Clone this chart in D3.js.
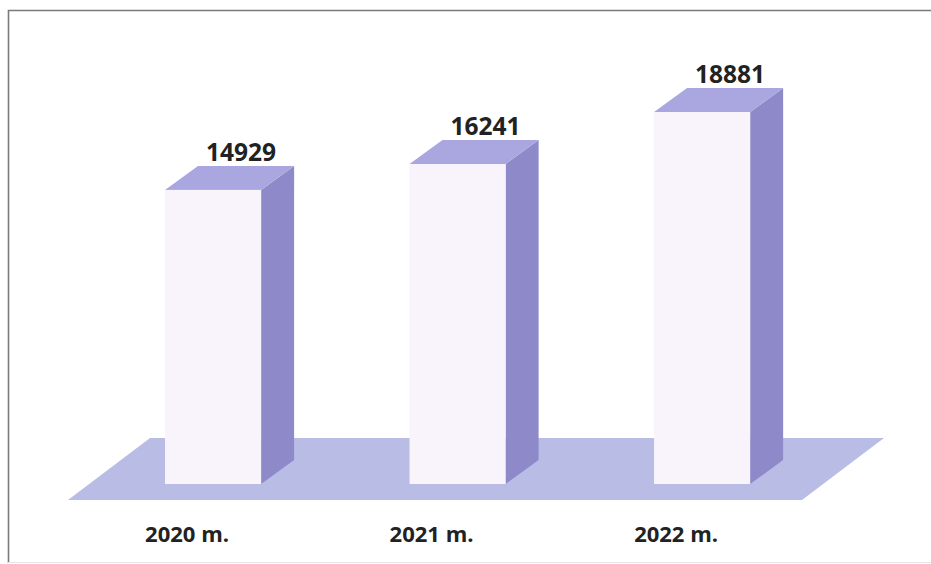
<!DOCTYPE html>
<html><head><meta charset="utf-8">
<script src="https://cdn.jsdelivr.net/npm/d3@7/dist/d3.min.js"></script>
<style>
html,body{margin:0;padding:0;background:#fff;}
svg{display:block;}
</style></head>
<body>
<script>
const categories = ["2020 m.", "2021 m.", "2022 m."];
const values = [14929, 16241, 18881];
const valueLabels = ["14929", "16241", "18881"];

const W = 931, H = 564;
const svg = d3.select("body").append("svg").attr("width", W).attr("height", H);

// frame
svg.append("path")
  .attr("d", "M8.5,563 L8.5,10.5 L931,10.5")
  .attr("fill", "none").attr("stroke", "#7a7a7a").attr("stroke-width", 1.6);
svg.append("line").attr("x1", 8).attr("x2", 931).attr("y1", 562.5).attr("y2", 562.5)
  .attr("stroke", "#e6e6e6").attr("stroke-width", 1);

const x = d3.scaleBand().domain(categories)
  .range([42.75, 872.4]).paddingInner(0.607).paddingOuter(0.5);
const baseY = 484;
const y = d3.scaleLinear().domain([0, 20000]).range([baseY, baseY - 394]);

const dx = 33, dy = -24;

// floor
const floorFront = 500, floorBack = 438;
const fdx = 82;
const floorX0 = 68, floorX1 = 802;
svg.append("path")
  .attr("d", `M${floorX0},${floorFront} L${floorX1},${floorFront} L${floorX1 + fdx},${floorBack} L${floorX0 + fdx},${floorBack} Z`)
  .attr("fill", "#b9bde6");

const g = svg.append("g");
categories.forEach((c, i) => {
  const x0 = x(c), w = x.bandwidth(), yt = y(values[i]);
  // side
  g.append("path")
    .attr("d", `M${x0 + w},${yt} L${x0 + w + dx},${yt + dy} L${x0 + w + dx},${baseY + dy} L${x0 + w},${baseY} Z`)
    .attr("fill", "#8e8ac9");
  // top
  g.append("path")
    .attr("d", `M${x0},${yt} L${x0 + dx},${yt + dy} L${x0 + w + dx},${yt + dy} L${x0 + w},${yt} Z`)
    .attr("fill", "#a9a6e0");
  // front
  g.append("rect")
    .attr("x", x0).attr("y", yt).attr("width", w).attr("height", baseY - yt)
    .attr("fill", "#f9f3fc");
  // value label
  g.append("text")
    .attr("x", x0 + w / 2 + 28).attr("y", yt + dy - 5)
    .attr("text-anchor", "middle")
    .attr("font-family", "'Open Sans', sans-serif").attr("font-weight", 700)
    .attr("font-size", 24.5).attr("fill", "#222")
    .text(valueLabels[i]);
  // category label
  g.append("text")
    .attr("x", x0 + w / 2 - 26).attr("y", 542)
    .attr("text-anchor", "middle")
    .attr("font-family", "'Open Sans', sans-serif").attr("font-weight", 700)
    .attr("font-size", 22).attr("fill", "#222")
    .text(c);
});
</script>
</body></html>
